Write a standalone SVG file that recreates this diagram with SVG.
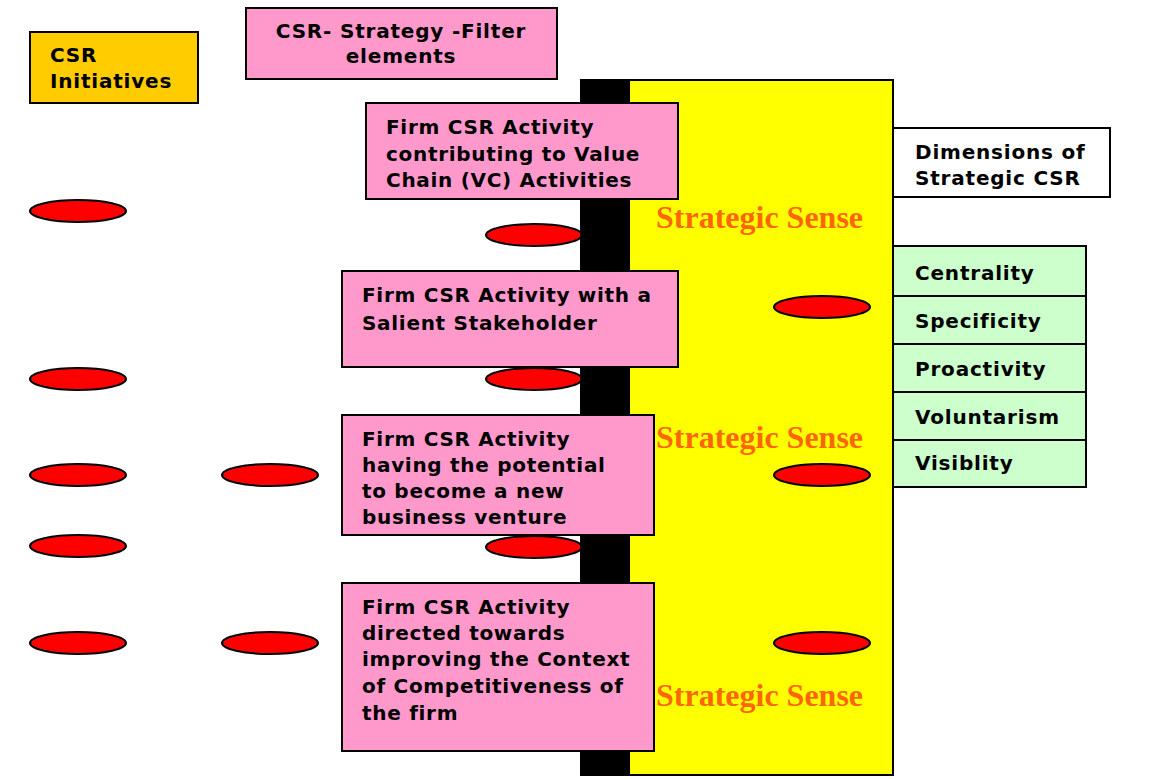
<svg xmlns="http://www.w3.org/2000/svg" width="1172" height="779" viewBox="0 0 1172 779">
  <style>
    .box { stroke: #000; stroke-width: 2; }
    .pink { fill: #FF99CC; }
    .gold { fill: #FFCC00; }
    .green { fill: #CCFFCC; }
    .white { fill: #FFFFFF; }
    .lbl { font-family: "DejaVu Sans", Verdana, sans-serif; font-weight: bold; font-size: 20px; letter-spacing: 0.8px; fill: #000; }
    .act { font-family: "DejaVu Sans", Tahoma, sans-serif; font-weight: bold; font-size: 20px; letter-spacing: 0.7px; fill: #000; }
    .sense { font-family: "Liberation Serif", "Times New Roman", serif; font-weight: bold; font-size: 32px; fill: #FF6600; }
    .dot { fill: #FF0000; stroke: #000; stroke-width: 2; }
  </style>
  <rect width="1172" height="779" fill="#FFFFFF"/>

  <!-- red initiative markers (behind the filter column) -->
  <g id="markers">
    <ellipse class="dot" cx="78" cy="211" rx="48" ry="11"/>
    <ellipse class="dot" cx="78" cy="379" rx="48" ry="11"/>
    <ellipse class="dot" cx="78" cy="475" rx="48" ry="11"/>
    <ellipse class="dot" cx="78" cy="546" rx="48" ry="11"/>
    <ellipse class="dot" cx="78" cy="643" rx="48" ry="11"/>
    <ellipse class="dot" cx="270" cy="475" rx="48" ry="11"/>
    <ellipse class="dot" cx="270" cy="643" rx="48" ry="11"/>
    <ellipse class="dot" cx="534" cy="235" rx="48" ry="11"/>
    <ellipse class="dot" cx="534" cy="379" rx="48" ry="11"/>
    <ellipse class="dot" cx="534" cy="547" rx="48" ry="11"/>
  </g>

  <!-- strategic sense column -->
  <g id="sense-column">
    <rect x="581" y="80" width="312" height="695" fill="#FFFF00" stroke="#000" stroke-width="2"/>
    <rect x="581" y="80" width="49" height="695" fill="#000"/>
    <text class="sense" x="656" y="228">Strategic Sense</text>
    <text class="sense" x="656" y="448">Strategic Sense</text>
    <text class="sense" x="656" y="706">Strategic Sense</text>
  </g>

  <g id="markers-inner">
    <ellipse class="dot" cx="822" cy="307" rx="48" ry="11"/>
    <ellipse class="dot" cx="822" cy="475" rx="48" ry="11"/>
    <ellipse class="dot" cx="822" cy="643" rx="48" ry="11"/>
  </g>

  <g id="csr-initiatives">
    <rect class="box gold" x="30" y="32" width="168" height="71"/>
    <text class="lbl" x="50" y="62">CSR</text>
    <text class="lbl" x="50" y="88">Initiatives</text>
  </g>

  <g id="filter-elements">
    <rect class="box pink" x="246" y="8" width="311" height="71"/>
    <text class="lbl" x="401" y="38" text-anchor="middle">CSR- Strategy -Filter</text>
    <text class="lbl" x="401" y="63" text-anchor="middle">elements</text>
  </g>

  <g id="activity-value-chain">
    <rect class="box pink" x="366" y="103" width="312" height="96"/>
    <text class="act" x="386" y="134">Firm CSR Activity</text>
    <text class="act" x="386" y="161">contributing to Value</text>
    <text class="act" x="386" y="187">Chain (VC) Activities</text>
  </g>

  <g id="activity-stakeholder">
    <rect class="box pink" x="342" y="271" width="336" height="96"/>
    <text class="act" x="362" y="302">Firm CSR Activity with a</text>
    <text class="act" x="362" y="330">Salient Stakeholder</text>
  </g>

  <g id="activity-venture">
    <rect class="box pink" x="342" y="415" width="312" height="120"/>
    <text class="act" x="362" y="446">Firm CSR Activity</text>
    <text class="act" x="362" y="472">having the potential</text>
    <text class="act" x="362" y="498">to become a new</text>
    <text class="act" x="362" y="524">business venture</text>
  </g>

  <g id="activity-context">
    <rect class="box pink" x="342" y="583" width="312" height="168"/>
    <text class="act" x="362" y="614">Firm CSR Activity</text>
    <text class="act" x="362" y="640">directed towards</text>
    <text class="act" x="362" y="666">improving the Context</text>
    <text class="act" x="362" y="693">of Competitiveness of</text>
    <text class="act" x="362" y="720">the firm</text>
  </g>

  <g id="dimensions-title">
    <rect class="box white" x="893" y="128" width="217" height="69"/>
    <text class="lbl" x="915" y="159">Dimensions of</text>
    <text class="lbl" x="915" y="185">Strategic CSR</text>
  </g>

  <g id="dimensions-list">
    <rect class="box green" x="893" y="246" width="193" height="50"/>
    <rect class="box green" x="893" y="296" width="193" height="48"/>
    <rect class="box green" x="893" y="344" width="193" height="48"/>
    <rect class="box green" x="893" y="392" width="193" height="48"/>
    <rect class="box green" x="893" y="440" width="193" height="47"/>
    <text class="lbl" x="915" y="280">Centrality</text>
    <text class="lbl" x="915" y="328">Specificity</text>
    <text class="lbl" x="915" y="376">Proactivity</text>
    <text class="lbl" x="915" y="424">Voluntarism</text>
    <text class="lbl" x="915" y="470">Visiblity</text>
  </g>

  <!-- no connectors are drawn between the nodes -->
  <g id="connectors"/>
</svg>
